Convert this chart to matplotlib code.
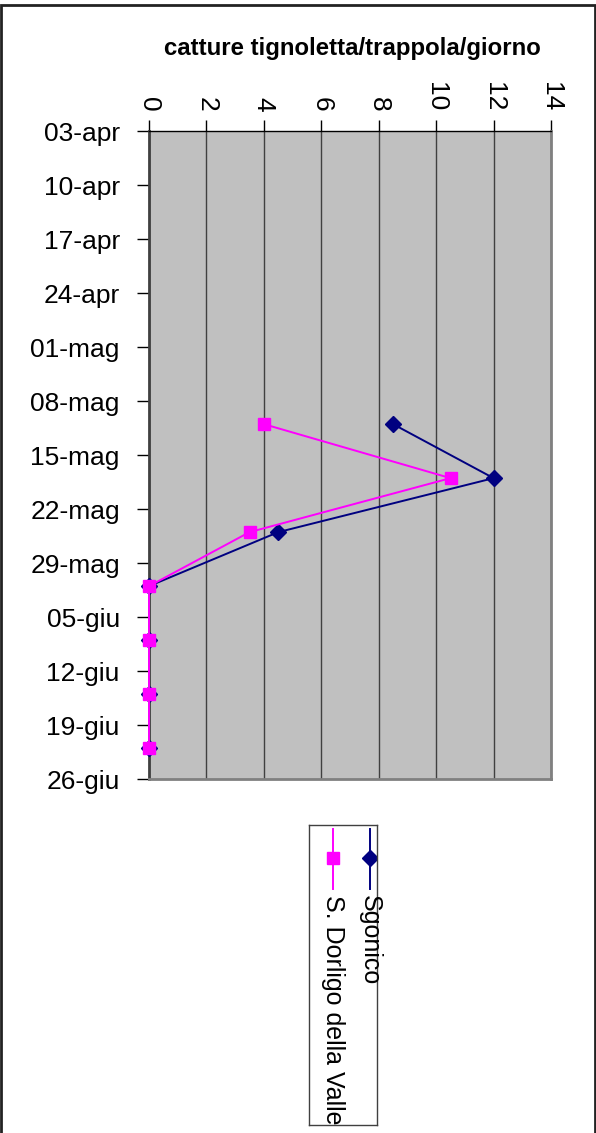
import pandas as pd
import matplotlib.pyplot as plt
from matplotlib.patches import Rectangle

plt.rcParams['font.family'] = ['Liberation Sans', 'DejaVu Sans']

# sample dates (weekly trap readings)
dates = pd.to_datetime(['2007-05-11', '2007-05-18', '2007-05-25', '2007-06-01',
                        '2007-06-08', '2007-06-15', '2007-06-22'])
sgonico = [8.5, 12, 4.5, 0, 0, 0, 0]
dorligo = [4, 10.5, 3.5, 0, 0, 0, 0]

tick_dates = pd.date_range('2007-04-03', '2007-06-26', freq='7D')
tick_labels = ['03-apr', '10-apr', '17-apr', '24-apr', '01-mag', '08-mag', '15-mag',
               '22-mag', '29-mag', '05-giu', '12-giu', '19-giu', '26-giu']
x_ticks = [0, 2, 4, 6, 8, 10, 12, 14]

W, H = 596, 1133
fig = plt.figure(figsize=(W / 100, H / 100), dpi=100)

# outer frame
fig.patches.append(Rectangle((1 / W, -0.01), (W - 2) / W, 1 - 5 / H + 0.01,
                             transform=fig.transFigure, fill=False,
                             edgecolor='#222222', linewidth=2))

ax = fig.add_axes([149 / W, 1 - 779 / H, (551 - 149) / W, (779 - 131) / H])
ax.set_facecolor('#C0C0C0')

# values on x, dates on y (chart is rotated)
ax.plot(sgonico, dates, color='#000080', marker='D', markersize=8, linewidth=1.4,
        label='Sgonico', clip_on=False, zorder=3)
ax.plot(dorligo, dates, color='#FF00FF', marker='s', markersize=8, linewidth=1.4,
        label='S. Dorligo della Valle', clip_on=False, zorder=4)

ax.set_xlim(0, 14)
ax.set_ylim(tick_dates[-1], tick_dates[0])
ax.set_yticks(tick_dates)
ax.set_yticklabels(tick_labels, fontsize=19)
ax.set_xticks(x_ticks)
ax.set_xticklabels([str(v) for v in x_ticks], rotation=-90, fontsize=19)
ax.xaxis.tick_top()
ax.tick_params(axis='x', length=8, width=1, color='black', pad=6)
ax.tick_params(axis='y', length=9, width=1, color='black', pad=12)
for lab in ax.get_xticklabels():
    lab.set_verticalalignment('bottom')

ax.grid(axis='x', color='#404040', linewidth=1)
ax.set_axisbelow(True)
for s in ['right', 'bottom']:
    ax.spines[s].set_color('#808080')
    ax.spines[s].set_linewidth(2)
ax.spines['left'].set_color('#404040')
ax.spines['left'].set_linewidth(2)
ax.spines['top'].set_color('black')
ax.spines['top'].set_linewidth(1)

fig.text(352 / W, 1 - 48 / H, 'catture tignoletta/trappola/giorno',
         ha='center', va='center', fontsize=17.3, fontweight='bold')

# rotated legend
lx = fig.add_axes([309 / W, 1 - 1125 / H, 68 / W, 300 / H])
lx.set_xlim(0, 68)
lx.set_ylim(300, 0)
lx.set_xticks([])
lx.set_yticks([])
for s in lx.spines.values():
    s.set_color('#404040')
    s.set_linewidth(1)
entries = [('Sgonico', '#000080', 'D', 61), ('S. Dorligo della Valle', '#FF00FF', 's', 24)]
for name, col, mk, xc in entries:
    lx.plot([xc, xc], [4, 64], color=col, linewidth=1.4)
    lx.plot([xc], [33], color=col, marker=mk, markersize=8)
    lx.text(xc, 70, name, rotation=-90, ha='center', va='top', fontsize=18)

fig.savefig('out.png', dpi=100)
